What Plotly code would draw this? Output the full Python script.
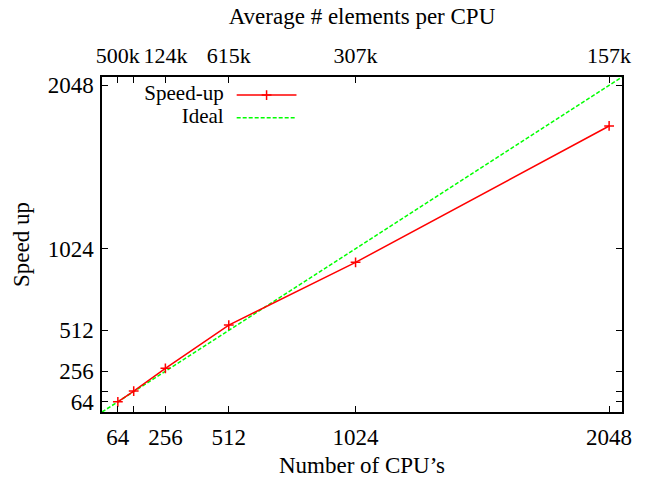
import plotly.graph_objects as go

# Measured speed-up against number of CPUs
cpus = [64, 128, 256, 512, 1024, 2048]
speedup = [64, 131, 274, 545, 938, 1793]

# Ideal (linear) scaling line across the full axis range
ideal_x = [0, 2100]
ideal_y = [0, 2100]

# Tick labels
x_tickvals = [64, 128, 256, 512, 1024, 2048]
x_ticktext = ["64", "", "256", "512", "1024", "2048"]
y_tickvals = [64, 128, 256, 512, 1024, 2048]
y_ticktext = ["64", "", "256", "512", "1024", "2048"]
top_tickvals = [64, 256, 512, 1024, 2048]
top_ticktext = ["500k", "124k", "615k", "307k", "157k"]

# Key entries
key_labels = ["Speed-up", "Ideal"]

axis_range = [0, 2100]

RED = "#ff0000"
GREEN = "#00ff00"
FONT = "Liberation Serif"
FS = 23
TOP_FS = 22
KEY_FS = 21

fig = go.Figure()

fig.add_trace(go.Scatter(
    x=ideal_x, y=ideal_y, mode="lines", name="Ideal",
    line=dict(color=GREEN, width=1.5, dash="4px,2px"),
    showlegend=False,
))
fig.add_trace(go.Scatter(
    x=cpus, y=speedup, mode="lines+markers", name="Speed-up",
    line=dict(color=RED, width=1.5),
    marker=dict(symbol="cross-thin", size=7, line=dict(color=RED, width=1.5)),
    showlegend=False,
))

# Key drawn on a hidden unit axis pair (text left, sample right)
KEY_Y1, KEY_Y2 = 0.946, 0.878
fig.add_trace(go.Scatter(
    x=[0.234, 0.234], y=[KEY_Y1, KEY_Y2], mode="text", text=key_labels,
    textposition="middle left", textfont=dict(family=FONT, size=KEY_FS, color="black"),
    xaxis="x3", yaxis="y3", showlegend=False, hoverinfo="skip",
))
fig.add_trace(go.Scatter(
    x=[0.259, 0.374], y=[KEY_Y1, KEY_Y1], mode="lines",
    line=dict(color=RED, width=1.5), xaxis="x3", yaxis="y3",
    showlegend=False, hoverinfo="skip",
))
fig.add_trace(go.Scatter(
    x=[0.3165], y=[KEY_Y1], mode="markers",
    marker=dict(symbol="cross-thin", size=7, line=dict(color=RED, width=1.5)),
    xaxis="x3", yaxis="y3", showlegend=False, hoverinfo="skip",
))
fig.add_trace(go.Scatter(
    x=[0.259, 0.374], y=[KEY_Y2, KEY_Y2], mode="lines",
    line=dict(color=GREEN, width=1.5, dash="4px,2px"), xaxis="x3", yaxis="y3",
    showlegend=False, hoverinfo="skip",
))

# Top axis carries labels on xaxis2 (invisible point keeps it active)
fig.add_trace(go.Scatter(
    x=[cpus[0]], y=[speedup[0]], mode="markers", xaxis="x2",
    marker=dict(opacity=0), showlegend=False, hoverinfo="skip",
))

axis_common = dict(
    showgrid=False, zeroline=False, showline=True, linecolor="black",
    linewidth=1.5, ticks="inside", ticklen=6, tickwidth=1, tickcolor="black",
    mirror="ticks", range=axis_range, automargin=False, tickangle=0,
    tickfont=dict(family=FONT, size=FS, color="black"),
)

fig.update_layout(
    width=645, height=482,
    margin=dict(l=102, r=23, t=77, b=70),
    paper_bgcolor="white", plot_bgcolor="white",
    font=dict(family=FONT, size=FS, color="black"),
    xaxis=dict(
        **axis_common,
        tickvals=x_tickvals, ticktext=x_ticktext, ticklabelstandoff=4,
        title=dict(text="Number of CPU’s", font=dict(family=FONT, size=FS), standoff=8),
    ),
    yaxis=dict(
        **axis_common,
        tickvals=y_tickvals, ticktext=y_ticktext, ticklabelstandoff=2,
        title=dict(text="Speed up", font=dict(family=FONT, size=FS), standoff=12),
    ),
    xaxis2=dict(
        overlaying="x", side="top", range=axis_range, automargin=False, tickangle=0,
        showgrid=False, zeroline=False, showline=False, ticks="",
        tickvals=top_tickvals, ticktext=top_ticktext, ticklabelstandoff=9,
        tickfont=dict(family=FONT, size=TOP_FS, color="black"),
        title=dict(text="Average # elements per CPU", font=dict(family=FONT, size=FS), standoff=11),
    ),
    xaxis3=dict(overlaying="x", range=[0, 1], visible=False, anchor="y3"),
    yaxis3=dict(overlaying="y", range=[0, 1], visible=False, anchor="x3"),
)

fig.write_html("out.html")
